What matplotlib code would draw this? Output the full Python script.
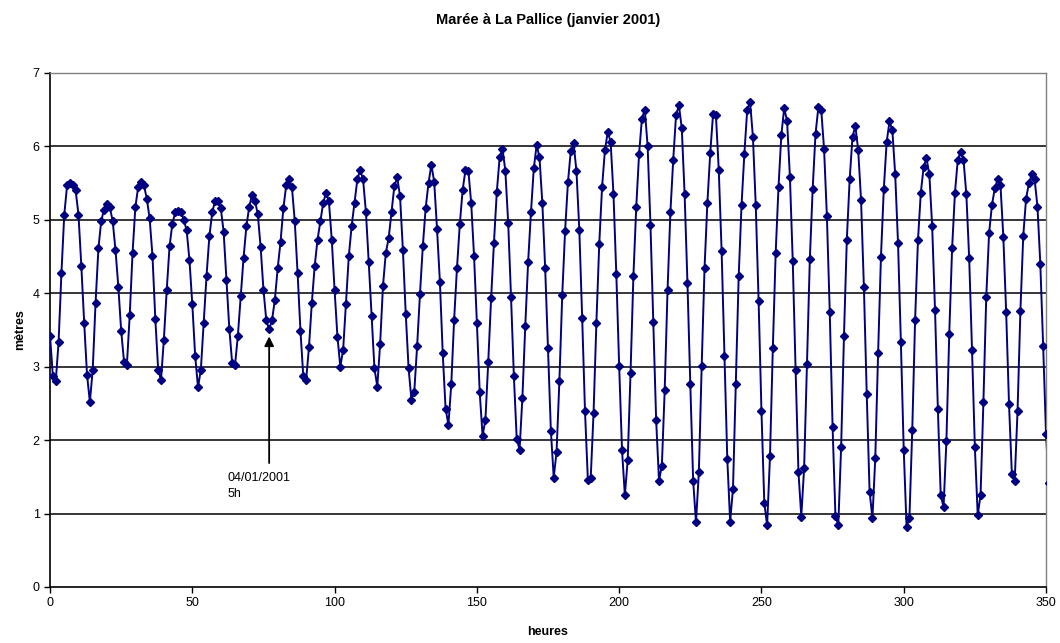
import numpy as np
import matplotlib
matplotlib.use("Agg")
import matplotlib.pyplot as plt

plt.rcParams['font.family'] = ['Liberation Sans', 'DejaVu Sans']

# hauteur d'eau lue heure par heure (h 0 = 01/01/2001 0h)
hauteur = [
    3.42, 2.87, 2.80, 3.33, 4.27, 5.07, 5.47, 5.50, 5.48, 5.40,
    5.07, 4.37, 3.60, 2.89, 2.52, 2.96, 3.87, 4.61, 4.99, 5.14,
    5.22, 5.17, 4.99, 4.59, 4.09, 3.49, 3.07, 3.02, 3.70, 4.55,
    5.18, 5.45, 5.51, 5.47, 5.29, 5.02, 4.51, 3.65, 2.96, 2.82,
    3.37, 4.04, 4.64, 4.95, 5.10, 5.12, 5.11, 5.00, 4.86, 4.45,
    3.85, 3.15, 2.72, 2.96, 3.60, 4.24, 4.78, 5.10, 5.26, 5.26,
    5.16, 4.84, 4.18, 3.52, 3.05, 3.02, 3.42, 3.96, 4.48, 4.91,
    5.18, 5.34, 5.26, 5.08, 4.63, 4.05, 3.63, 3.51, 3.63, 3.91,
    4.34, 4.70, 5.16, 5.47, 5.55, 5.45, 4.98, 4.27, 3.49, 2.87,
    2.82, 3.27, 3.87, 4.37, 4.73, 4.98, 5.23, 5.37, 5.25, 4.73,
    4.04, 3.41, 3.00, 3.23, 3.86, 4.51, 4.92, 5.23, 5.55, 5.68,
    5.55, 5.11, 4.42, 3.69, 2.98, 2.73, 3.31, 4.10, 4.55, 4.75,
    5.11, 5.46, 5.58, 5.32, 4.59, 3.72, 2.98, 2.55, 2.66, 3.28,
    3.99, 4.64, 5.16, 5.50, 5.75, 5.52, 4.87, 4.16, 3.18, 2.43,
    2.21, 2.76, 3.64, 4.34, 4.94, 5.41, 5.68, 5.67, 5.23, 4.51,
    3.60, 2.65, 2.06, 2.28, 3.07, 3.93, 4.69, 5.38, 5.85, 5.97,
    5.67, 4.96, 3.95, 2.87, 2.02, 1.87, 2.58, 3.55, 4.42, 5.10,
    5.70, 6.02, 5.85, 5.23, 4.34, 3.25, 2.13, 1.49, 1.84, 2.81,
    3.98, 4.85, 5.51, 5.94, 6.04, 5.66, 4.86, 3.67, 2.39, 1.46,
    1.48, 2.37, 3.60, 4.67, 5.45, 5.95, 6.20, 6.06, 5.35, 4.26,
    3.01, 1.87, 1.25, 1.73, 2.92, 4.23, 5.17, 5.90, 6.38, 6.50,
    6.01, 4.93, 3.61, 2.27, 1.45, 1.65, 2.68, 4.04, 5.10, 5.82,
    6.43, 6.56, 6.25, 5.35, 4.14, 2.76, 1.45, 0.88, 1.56, 3.01,
    4.34, 5.23, 5.91, 6.44, 6.43, 5.68, 4.58, 3.15, 1.74, 0.89,
    1.34, 2.76, 4.23, 5.20, 5.90, 6.50, 6.61, 6.13, 5.20, 3.90,
    2.40, 1.15, 0.84, 1.78, 3.25, 4.55, 5.45, 6.16, 6.52, 6.35,
    5.59, 4.44, 2.96, 1.57, 0.96, 1.62, 3.04, 4.46, 5.42, 6.17,
    6.53, 6.50, 5.97, 5.05, 3.75, 2.18, 0.97, 0.84, 1.90, 3.42,
    4.73, 5.55, 6.13, 6.28, 5.95, 5.27, 4.09, 2.63, 1.30, 0.94,
    1.75, 3.19, 4.50, 5.42, 6.06, 6.34, 6.22, 5.62, 4.68, 3.33,
    1.87, 0.82, 0.94, 2.14, 3.64, 4.72, 5.37, 5.72, 5.84, 5.62,
    4.91, 3.77, 2.42, 1.25, 1.09, 1.99, 3.45, 4.61, 5.37, 5.82,
    5.93, 5.82, 5.35, 4.48, 3.23, 1.90, 0.98, 1.25, 2.52, 3.95,
    4.82, 5.20, 5.43, 5.55, 5.47, 4.77, 3.74, 2.49, 1.54, 1.45,
    2.40, 3.76, 4.78, 5.29, 5.50, 5.62, 5.55, 5.18, 4.40, 3.28,
    2.09, 1.42,
]
heures = np.arange(len(hauteur))

x_ticks = [0, 50, 100, 150, 200, 250, 300, 350]
y_ticks = [0, 1, 2, 3, 4, 5, 6, 7]

fig = plt.figure(figsize=(10.6, 6.43), dpi=100)
ax = fig.add_axes([0.0472, 0.0871, 0.9396, 0.7994])

for y in y_ticks[1:]:
    ax.axhline(y, color='black', lw=1.1, zorder=1)

ax.plot(heures, hauteur, color='#000080', lw=1.4, marker='D', markersize=4.5,
        markerfacecolor='#000080', markeredgecolor='#000080', zorder=3)

ax.set_xlim(0, 350)
ax.set_ylim(0, 7)
ax.set_xticks(x_ticks)
ax.set_yticks(y_ticks)
ax.tick_params(direction='out', length=4, width=1, labelsize=9, colors='black')

for s in ['top', 'right']:
    ax.spines[s].set_color('#808080')
    ax.spines[s].set_linewidth(1)
ax.spines['left'].set_linewidth(1.2)
ax.spines['bottom'].set_linewidth(1.2)

ax.set_title("Marée à La Pallice (janvier 2001)", fontsize=10.5, fontweight='bold', pad=35)
ax.set_xlabel("heures", fontsize=9, fontweight='bold', labelpad=12)
ax.set_ylabel("mètres", fontsize=9, fontweight='bold', labelpad=5)

# fleche sur le 04/01 5h
ax.annotate("", xy=(77, 3.45), xytext=(77, 1.65),
            arrowprops=dict(arrowstyle='-|>', color='black', lw=1.3, mutation_scale=14))
ax.text(62.5, 1.57, "04/01/2001\n5h", fontsize=9, va='top', ha='left', linespacing=1.45)

fig.savefig("out.png", dpi=100)
